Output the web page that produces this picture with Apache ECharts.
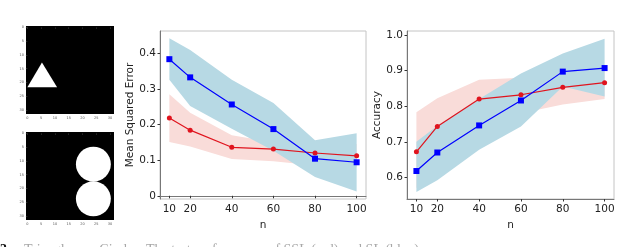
<!DOCTYPE html>
<html><head><meta charset="utf-8">
<script src="https://cdn.jsdelivr.net/npm/echarts@6/dist/echarts.min.js"></script>
<style>html,body{margin:0;padding:0;background:#fff}#c{width:640px;height:247px}</style>
</head><body><div id="c"></div>
<script>
// ---- data ----
const nValues = [10, 20, 40, 60, 80, 100];
const xTicks = [10, 20, 40, 60, 80, 100];
const mseTicks = [0, 0.1, 0.2, 0.3, 0.4];
const accTicks = [0.6, 0.7, 0.8, 0.9, 1.0];

const mseBlue = [0.383, 0.332, 0.256, 0.187, 0.104, 0.094];
const mseBlueHi = [0.442, 0.409, 0.325, 0.260, 0.156, 0.175];
const mseBlueLo = [0.325, 0.252, 0.188, 0.126, 0.053, 0.012];
const mseRed = [0.218, 0.184, 0.136, 0.131, 0.120, 0.112];
const mseRedHi = [0.285, 0.233, 0.170, 0.150, 0.150, 0.145];
const mseRedLo = [0.151, 0.138, 0.103, 0.097, 0.085, 0.080];

const accBlue = [0.618, 0.670, 0.746, 0.816, 0.897, 0.907];
const accBlueHi = [0.700, 0.745, 0.820, 0.892, 0.948, 0.989];
const accBlueLo = [0.559, 0.592, 0.678, 0.743, 0.855, 0.827];
const accRed = [0.672, 0.743, 0.820, 0.832, 0.853, 0.866];
const accRedHi = [0.783, 0.822, 0.874, 0.880, 0.895, 0.905];
const accRedLo = [0.570, 0.660, 0.750, 0.780, 0.805, 0.820];

// small example images (32x32 pixel grid coordinates)
const imgTicks = [0, 5, 10, 15, 20, 25, 30];
const triangle = [[5.3, 12.8], [0, 21.8], [10.8, 21.8]];
const circles = [[24.0, 11.2, 6.35], [24.0, 23.8, 6.35]];

const captionLabel = '3:';
const captionText = 'Triangles vs. Circles. The test performance of SSL (red) and SL (blue)';

const BLUE = '#0000ff', RED = '#e0141e';
const BLUE_BAND = '#b7d9e4', RED_BAND = '#f9dcd9';
const FONT = 'DejaVu Sans';

function band(gi, lo, hi, color, z) {
  return {
    type: 'custom', xAxisIndex: gi, yAxisIndex: gi, silent: true, z: z,
    data: nValues.map((x, i) => [x, lo[i], hi[i]]),
    encode: {x: 0, y: [1, 2]},
    renderItem: function (params, api) {
      if (params.dataIndex !== 0) return null;
      const pts = [];
      for (let i = 0; i < nValues.length; i++) pts.push(api.coord([nValues[i], hi[i]]));
      for (let i = nValues.length - 1; i >= 0; i--) pts.push(api.coord([nValues[i], lo[i]]));
      return {type: 'polygon', shape: {points: pts}, style: {fill: color}};
    }
  };
}
function line(gi, vals, color, sym, size, z) {
  return {
    type: 'line', xAxisIndex: gi, yAxisIndex: gi, z: z,
    data: nValues.map((x, i) => [x, vals[i]]),
    symbol: sym, symbolSize: size, showSymbol: true,
    lineStyle: {color: color, width: 1.2},
    itemStyle: {color: color, borderWidth: 0},
    animation: false
  };
}
function mainX(gi) {
  return {
    type: 'value', gridIndex: gi, min: 5.5, max: 104.5,
    name: 'n', nameLocation: 'middle', nameGap: 14,
    nameTextStyle: {fontFamily: FONT, fontSize: 10.5, color: '#222'},
    axisLine: {show: true, lineStyle: {color: '#777', width: 1}},
    axisTick: {show: true, length: 2.5, lineStyle: {color: '#333'}, customValues: xTicks},
    axisLabel: {fontFamily: FONT, fontSize: 10.5, color: '#222', margin: 5, customValues: xTicks},
    splitLine: {show: false}
  };
}
function mainY(gi, min, max, ticks, name, fmt, gap) {
  return {
    type: 'value', gridIndex: gi, min: min, max: max,
    name: name, nameLocation: 'middle', nameGap: gap, nameRotate: 90,
    nameTextStyle: {fontFamily: FONT, fontSize: 10.5, color: '#222'},
    axisLine: {show: true, lineStyle: {color: '#777', width: 1}},
    axisTick: {show: true, length: 2.5, lineStyle: {color: '#333'}, customValues: ticks},
    axisLabel: {fontFamily: FONT, fontSize: 10.5, color: '#222', margin: 4, customValues: ticks, formatter: fmt},
    splitLine: {show: false}
  };
}
function imgAxis(gi, isY) {
  return {
    type: 'value', gridIndex: gi, min: -0.5, max: 31.5, inverse: !!isY,
    axisLine: {show: false},
    axisTick: {show: true, length: 1.5, lineStyle: {color: '#444', width: 0.6}, customValues: imgTicks},
    axisLabel: {fontFamily: FONT, fontSize: 3.5, color: '#555', margin: 2, customValues: imgTicks},
    splitLine: {show: false}
  };
}

const chart = echarts.init(document.getElementById('c'), null, {renderer: 'canvas'});
chart.setOption({
  animation: false,
  backgroundColor: '#fff',
  grid: [
    {left: 160, top: 31, width: 206, height: 168, show: true, borderColor: '#c4c4c4', borderWidth: 1, backgroundColor: 'transparent'},
    {left: 407, top: 31, width: 207, height: 168, show: true, borderColor: '#c4c4c4', borderWidth: 1, backgroundColor: 'transparent'},
    {left: 26, top: 26, width: 88, height: 88, show: true, backgroundColor: '#000', borderWidth: 0},
    {left: 26, top: 132, width: 88, height: 88, show: true, backgroundColor: '#000', borderWidth: 0}
  ],
  graphic: [
    {type: 'text', left: 0, top: 243, style: {text: captionLabel, font: 'bold 14px "Liberation Serif"', fill: '#111'}},
    {type: 'text', left: 24, top: 243, style: {text: captionText, font: '14px "Liberation Serif"', fill: '#a8a8a8'}}
  ],
  xAxis: [mainX(0), mainX(1), imgAxis(2, false), imgAxis(3, false)],
  yAxis: [
    mainY(0, -0.009, 0.462, mseTicks, 'Mean Squared Error', v => (v === 0 ? '0' : v.toFixed(1)), 22),
    mainY(1, 0.5395, 1.011, accTicks, 'Accuracy', v => v.toFixed(1), 22),
    imgAxis(2, true), imgAxis(3, true)
  ],
  series: [
    band(0, mseRedLo, mseRedHi, RED_BAND, 1),
    band(0, mseBlueLo, mseBlueHi, BLUE_BAND, 2),
    line(0, mseRed, RED, 'circle', 5, 5),
    line(0, mseBlue, BLUE, 'rect', 6, 6),
    band(1, accRedLo, accRedHi, RED_BAND, 1),
    band(1, accBlueLo, accBlueHi, BLUE_BAND, 2),
    line(1, accRed, RED, 'circle', 5, 5),
    line(1, accBlue, BLUE, 'rect', 6, 6),
    {
      type: 'custom', xAxisIndex: 2, yAxisIndex: 2, silent: true,
      data: [[triangle[0][0], triangle[0][1]]],
      renderItem: function (params, api) {
        return {type: 'polygon', shape: {points: triangle.map(p => api.coord(p))}, style: {fill: '#fff'}};
      }
    },
    {
      type: 'custom', xAxisIndex: 3, yAxisIndex: 3, silent: true,
      data: circles,
      renderItem: function (params, api) {
        const c = api.coord([api.value(0), api.value(1)]);
        const r = api.size([api.value(2), 0])[0];
        return {type: 'circle', shape: {cx: c[0], cy: c[1], r: r}, style: {fill: '#fff'}};
      }
    }
  ]
});
</script></body></html>
